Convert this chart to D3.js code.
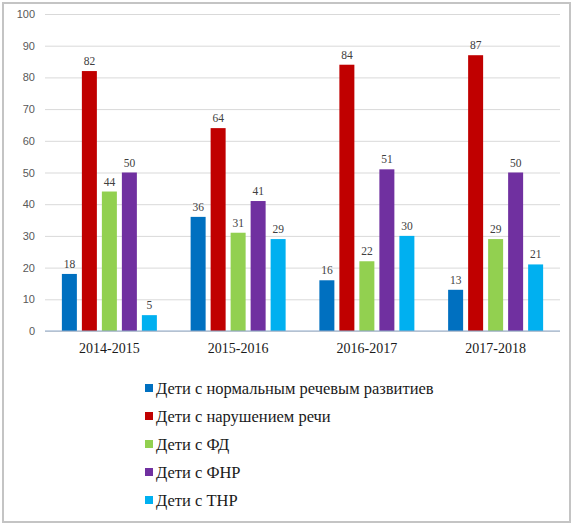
<!DOCTYPE html>
<html>
<head>
<meta charset="utf-8">
<script src="https://cdn.jsdelivr.net/npm/d3@7"></script>
<style>
body { margin: 0; background: #fff; }
</style>
</head>
<body>
<div id="vis"></div>
<script>
var years = ["2014-2015", "2015-2016", "2016-2017", "2017-2018"];
var seriesNames = [
	"Дети с нормальным речевым развитиев",
	"Дети с нарушением речи",
	"Дети с ФД",
	"Дети с ФНР",
	"Дети с ТНР"
];
var normal = [18, 36, 16, 13];
var speech = [82, 64, 84, 87];
var fd = [44, 31, 22, 29];
var fnr = [50, 41, 51, 50];
var tnr = [5, 29, 30, 21];
var yTicks = [0, 10, 20, 30, 40, 50, 60, 70, 80, 90, 100];

var colours = ["#0070c0", "#c00000", "#92d050", "#7030a0", "#00b0f0"];
var seriesValues = [normal, speech, fd, fnr, tnr];

var SERIF = "'Liberation Serif', 'Times New Roman'";
var SANS = "'Liberation Sans', Arial";

var w = 574, h = 525;

var svg = d3.select("#vis").append("svg")
.attr("width", w)
.attr("height", h);

// outer frame
svg.append("rect")
.attr("x", 3)
.attr("y", 3)
.attr("width", 567)
.attr("height", 519)
.attr("fill", "#fff")
.attr("stroke", "#c4c4c4")
.attr("stroke-width", 2);

var plotLeft = 45, plotRight = 560, plotTop = 14, plotBottom = 331;

var x = d3.scaleBand()
.domain(years)
.range([plotLeft, plotRight]);

var x1 = d3.scaleBand()
.domain(d3.range(seriesNames.length))
.range([(x.bandwidth() - 95) / 2, (x.bandwidth() + 95) / 2])
.paddingInner(0.25);

var y = d3.scaleLinear()
.domain([0, 100])
.range([plotBottom, plotTop]);

// gridlines + tick labels
var yAxis = d3.axisLeft(y)
.tickValues(yTicks)
.tickSize(-(plotRight - plotLeft))
.tickPadding(10);

var ga = svg.append("g")
.attr("transform", "translate(" + plotLeft + ",0)")
.call(yAxis);

ga.select(".domain").remove();
ga.selectAll(".tick line")
.attr("stroke", "#d9d9d9")
.attr("stroke-width", 1);
ga.selectAll(".tick text")
.style("font-family", SANS)
.style("font-size", "11px")
.attr("fill", "#595959");

var groups = svg.selectAll(".year-group")
.data(years)
.enter()
.append("g")
.attr("class", "year-group")
.attr("transform", function (d) {
	return "translate(" + x(d) + ",0)";
});

function cells (d, i) {
	return seriesValues.map(function (s, k) {
		return { k: k, v: s[i] };
	});
}

groups.selectAll("rect")
.data(cells)
.enter()
.append("rect")
.attr("x", function (d) { return x1(d.k); })
.attr("y", function (d) { return y(d.v); })
.attr("width", x1.bandwidth())
.attr("height", function (d) { return y(0) - y(d.v); })
.attr("fill", function (d) { return colours[d.k]; });

groups.selectAll(".val")
.data(cells)
.enter()
.append("text")
.attr("class", "val")
.attr("x", function (d) { return x1(d.k) + x1.bandwidth() / 2; })
.attr("y", function (d) { return y(d.v) - 6; })
.attr("text-anchor", "middle")
.style("font-family", SERIF)
.style("font-size", "11.5px")
.attr("fill", "#404040")
.text(function (d) { return d.v; });

// baseline
svg.append("line")
.attr("x1", plotLeft)
.attr("x2", plotRight)
.attr("y1", y(0))
.attr("y2", y(0))
.attr("stroke", "#8fa9c9")
.attr("stroke-width", 1);

// category labels
svg.selectAll(".cat")
.data(years)
.enter()
.append("text")
.attr("class", "cat")
.attr("x", function (d) { return x(d) + x.bandwidth() / 2; })
.attr("y", 353)
.attr("text-anchor", "middle")
.style("font-family", SERIF)
.style("font-size", "14px")
.attr("fill", "#1a1a1a")
.text(function (d) { return d; });

// legend
var key = svg.selectAll(".key-group")
.data(seriesNames)
.enter()
.append("g")
.attr("class", "key-group")
.attr("transform", function (d, i) {
	return "translate(145," + (388 + i * 28) + ")";
});

key.append("rect")
.attr("x", 0)
.attr("y", -4)
.attr("width", 8)
.attr("height", 8)
.attr("fill", function (d, i) { return colours[i]; });

key.append("text")
.attr("x", 11)
.attr("y", 5.5)
.style("font-family", SERIF)
.style("font-size", "16.5px")
.attr("fill", "#1a1a1a")
.text(function (d) { return d; });
</script>
</body>
</html>
